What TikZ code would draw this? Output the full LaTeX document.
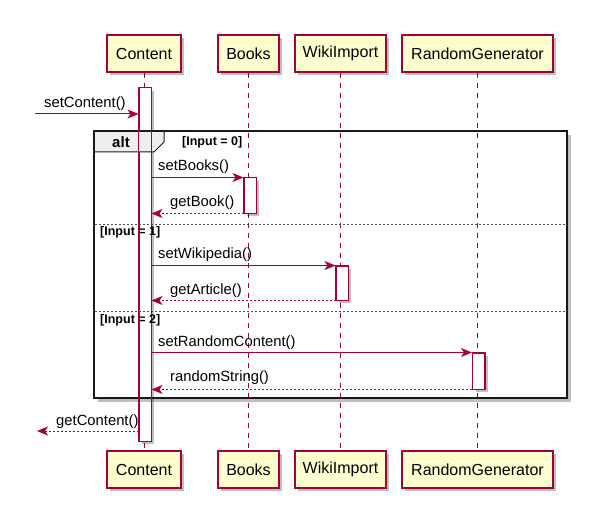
\documentclass[tikz,border=0pt]{standalone}
\usepackage{fontspec}
\setmainfont{Liberation Sans}
\usetikzlibrary{arrows.meta,shadows}
\definecolor{umlred}{HTML}{A80036}
\definecolor{umlfill}{HTML}{FEFECE}
\definecolor{tabfill}{HTML}{EEEEEE}
\begin{document}
\begin{tikzpicture}[x=1pt,y=-1pt,
  shad/.style={drop shadow={shadow xshift=3pt,shadow yshift=-3pt,opacity=.25,fill=black}},
  part/.style={draw=umlred,fill=umlfill,line width=1.1pt,minimum height=37pt,inner sep=0pt,
    font=\fontsize{16}{18}\selectfont,shad},
  actbar/.style={draw=umlred,fill=white,line width=1pt,minimum width=12pt,inner sep=0pt,shad},
  life/.style={umlred,line width=0.9pt,dash pattern=on 5pt off 5pt},
  msg/.style={umlred,line width=1pt,-{Stealth[length=11pt,width=9pt,inset=3pt]}},
  ret/.style={msg,dash pattern=on 2pt off 2pt},
  lbl/.style={anchor=west,inner sep=0pt,font=\fontsize{14.8}{16}\selectfont},
  guard/.style={anchor=west,inner sep=0pt,font=\fontsize{12.5}{14}\selectfont\bfseries},
  sep/.style={black!70,line width=0.9pt,dash pattern=on 2pt off 2pt},
  barline/.style={umlred,line width=1pt},
  frameshadow/.style={black,opacity=.25,line width=2.5pt}
]
\useasboundingbox (0,0) rectangle (607,513);
\fill[white] (0,0) rectangle (607,513);

% participants
\node[part,minimum width=74pt] (cT) at (144,53.5) {Content};
\node[part,minimum width=61pt] (bT) at (248.5,53.5) {Books};
\node[part,minimum width=91pt] (wT) at (340.5,53.5) {WikiImport};
\node[part,minimum width=151pt] (rT) at (477.5,53.5) {RandomGenerator};
\node[part,minimum width=74pt] (cB) at (144,469.5) {Content};
\node[part,minimum width=61pt] (bB) at (248.5,469.5) {Books};
\node[part,minimum width=91pt] (wB) at (340.5,469.5) {WikiImport};
\node[part,minimum width=151pt] (rB) at (477.5,469.5) {RandomGenerator};

% lifelines
\draw[life] (cT.south) -- (cB.north);
\draw[life] (bT.south) -- (bB.north);
\draw[life] (wT.south) -- (wB.north);
\draw[life] (rT.south) -- (rB.north);

% activation bars
\node[actbar,minimum height=353pt] (aC) at (145,264.5) {};
\node[actbar,minimum height=35pt] (aB) at (250,195.5) {};
\node[actbar,minimum height=34pt] (aW) at (342,283) {};
\node[actbar,minimum height=36pt] (aR) at (478.5,371) {};

% alt frame
\draw[frameshadow] (569.5,135) -- (569.5,400.5) -- (98,400.5);
\draw[black!90,line width=1pt,fill=tabfill] (94,131) -- (164,131) -- (164,142) -- (154,152) -- (94,152) -- cycle;
\draw[black!90,line width=1.6pt] (94,131) rectangle (567,398);
\draw[sep] (95,224) -- (566,224);
\draw[sep] (95,311) -- (566,311);

% bar outlines on top
\draw[barline] (aC.north west) rectangle (aC.south east);
\draw[barline] (aB.north west) rectangle (aB.south east);
\draw[barline] (aW.north west) rectangle (aW.south east);
\draw[barline] (aR.north west) rectangle (aR.south east);

\node[font=\fontsize{15}{16}\selectfont\bfseries,inner sep=0pt] (altlbl) at (121,142) {alt};
\node[guard] (g0) at (182,142) {[Input = 0]};
\node[guard] (g1) at (100,232) {[Input = 1]};
\node[guard] (g2) at (100,320) {[Input = 2]};

% messages
\coordinate (inS) at (35,114);
\coordinate (outE) at (37,431);
\draw[msg] (inS) -- (aC.west |- 0,114);
\node[lbl] (l1) at (44,104) {setContent()};
\draw[msg] (aC.east |- aB.north) -- (aB.north west);
\node[lbl] (l2) at (158,167) {setBooks()};
\draw[ret] (aB.south west) -- (aC.east |- aB.south);
\node[lbl] (l3) at (170,202.5) {getBook()};
\draw[msg] (aC.east |- aW.north) -- (aW.north west);
\node[lbl] (l4) at (158,255) {setWikipedia()};
\draw[ret] (aW.south west) -- (aC.east |- aW.south);
\node[lbl] (l5) at (170,290.5) {getArticle()};
\draw[msg] (aC.east |- aR.north) -- (aR.north west);
\node[lbl] (l6) at (158,342.5) {setRandomContent()};
\draw[ret] (aR.south west) -- (aC.east |- aR.south);
\node[lbl] (l7) at (170,378) {randomString()};
\draw[ret] (aC.west |- 0,431) -- (outE);
\node[lbl] (l8) at (56,421.5) {getContent()};
\end{tikzpicture}
\end{document}
